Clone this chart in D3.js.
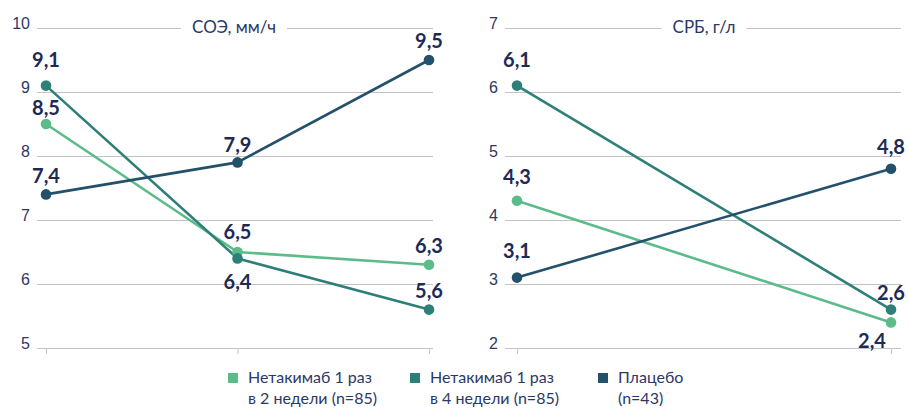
<!DOCTYPE html>
<html lang="ru">
<head>
<meta charset="utf-8">
<script src="https://cdn.jsdelivr.net/npm/d3@7"></script>
<style>
  html, body { margin: 0; padding: 0; background: #ffffff; }
  svg { display: block; font-family: Lato, "Noto Sans", sans-serif; }
</style>
</head>
<body>
<svg id="chart" width="909" height="408"></svg>
<script>
// ---- data ----
const seriesNames = ["q2w", "q4w", "placebo"];
const legendLines = [
  ["Нетакимаб 1 раз", "в 2 недели (n=85)"],
  ["Нетакимаб 1 раз", "в 4 недели (n=85)"],
  ["Плацебо", "(n=43)"]
];

// ESR (СОЭ, мм/ч), three visits
const esrTitle = "СОЭ, мм/ч";
const esrVisits = [0, 1, 2];
const esrQ2w = [8.5, 6.5, 6.3];
const esrQ4w = [9.1, 6.4, 5.6];
const esrPlacebo = [7.4, 7.9, 9.5];
const esrTicks = [5, 6, 7, 8, 9, 10];

// CRP (СРБ, г/л), two visits
const crpTitle = "СРБ, г/л";
const crpVisits = [0, 1];
const crpQ2w = [4.3, 2.4];
const crpQ4w = [6.1, 2.6];
const crpPlacebo = [3.1, 4.8];
const crpTicks = [2, 3, 4, 5, 6, 7];

// ---- styling ----
const colors = { q2w: "#5bbb89", q4w: "#2e7f78", placebo: "#23506a" };
const textColor = "#1d2a55";
const axisTextColor = "#2b3866";
const gridColor = "#c3c3c3";

// label placement per panel/series/visit: [dx, dy] from the point
const labelPlacement = {
  esr: {
    q2w: [[0, -9], [0, -13], [0, -12]],
    q4w: [[0, -19], [0, 31], [0, -12]],
    placebo: [[0, -11], [0, -10], [0, -12]]
  },
  crp: {
    q2w: [[0, -17], [-19, 26]],
    q4w: [[0, -19], [0, -10]],
    placebo: [[0, -20], [0, -15]]
  }
};

const svg = d3.select("#chart");

function drawPanel(cfg) {
  const g = svg.append("g");
  const y = d3.scaleLinear().domain(d3.extent(cfg.ticks)).range([348, 28]);
  const x = d3.scalePoint().domain(cfg.visits).range(cfg.pointRange);
  const yTop = y(cfg.ticks[cfg.ticks.length - 1]);

  // gridlines
  const yAxis = d3.axisLeft(y).tickValues(cfg.ticks)
    .tickSize(-(cfg.gridRange[1] - cfg.gridRange[0])).tickPadding(7)
    .tickFormat(d3.format("d"));
  const ya = g.append("g")
    .attr("transform", `translate(${cfg.gridRange[0]},0)`)
    .call(yAxis);
  ya.select(".domain").remove();
  ya.selectAll(".tick line").attr("stroke", gridColor).attr("stroke-width", 1);
  ya.selectAll(".tick text")
    .attr("fill", axisTextColor).attr("font-size", 16).attr("dy", "0")
    .attr("y", 0);

  // x-axis tick marks under the bottom gridline
  const xa = g.append("g")
    .attr("transform", `translate(0,${y.range()[0]})`)
    .call(d3.axisBottom(x).tickSize(6).tickFormat(""));
  xa.select(".domain").remove();
  xa.selectAll(".tick line").attr("stroke", gridColor).attr("stroke-width", 1);

  // title with a white gap cut through the top gridline
  const gap = g.append("rect").attr("fill", "#fff");
  const title = g.append("text")
    .attr("x", cfg.titleX).attr("y", yTop + 5)
    .attr("text-anchor", "middle")
    .attr("font-size", 17).attr("fill", axisTextColor)
    .text(cfg.title);
  const bb = title.node().getBBox();
  gap.attr("x", bb.x - 11).attr("y", yTop - 3)
    .attr("width", bb.width + 22).attr("height", 6);

  const line = d3.line().x((d, i) => x(cfg.visits[i])).y(d => y(d));

  seriesNames.forEach(s => {
    g.append("path").datum(cfg.data[s])
      .attr("d", line).attr("fill", "none")
      .attr("stroke", colors[s]).attr("stroke-width", 2.6)
      .attr("stroke-linejoin", "round");
  });
  seriesNames.forEach(s => {
    g.selectAll(null).data(cfg.data[s]).join("circle")
      .attr("cx", (d, i) => x(cfg.visits[i])).attr("cy", d => y(d))
      .attr("r", 5.3).attr("fill", colors[s]);
  });
  const fmt = v => d3.format(".1f")(v).replace(".", ",");
  seriesNames.forEach(s => {
    g.selectAll(null).data(cfg.data[s]).join("text")
      .attr("x", (d, i) => x(cfg.visits[i]) + cfg.place[s][i][0])
      .attr("y", (d, i) => y(d) + cfg.place[s][i][1])
      .attr("text-anchor", "middle")
      .attr("font-size", 20).attr("font-weight", 700)
      .attr("fill", textColor)
      .text(fmt);
  });
}

drawPanel({
  title: esrTitle, titleX: 234, visits: esrVisits, ticks: esrTicks,
  data: { q2w: esrQ2w, q4w: esrQ4w, placebo: esrPlacebo },
  place: labelPlacement.esr, gridRange: [37, 433], pointRange: [46, 429]
});
drawPanel({
  title: crpTitle, titleX: 704, visits: crpVisits, ticks: crpTicks,
  data: { q2w: crpQ2w, q4w: crpQ4w, placebo: crpPlacebo },
  place: labelPlacement.crp, gridRange: [505, 901], pointRange: [517, 891]
});

// legend
const legendX = [228, 410, 598];
const lg = svg.append("g");
seriesNames.forEach((s, i) => {
  const item = lg.append("g").attr("transform", `translate(${legendX[i]},373)`);
  item.append("rect").attr("width", 10).attr("height", 10).attr("fill", colors[s]);
  legendLines[i].forEach((t, j) => {
    item.append("text").attr("x", 20).attr("y", 10 + j * 21)
      .attr("font-size", 16).attr("fill", axisTextColor).text(t);
  });
});
</script>
</body>
</html>
